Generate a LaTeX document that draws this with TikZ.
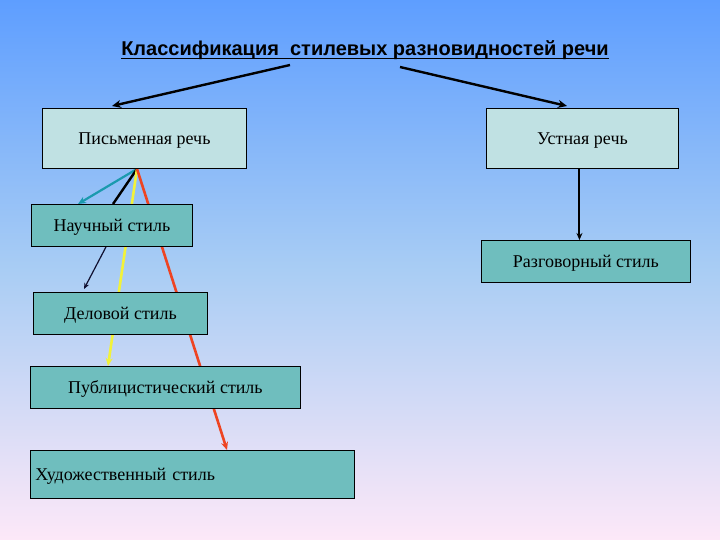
\documentclass[tikz,border=0pt]{standalone}
\usepackage{fontspec}
\setmainfont{Liberation Serif}
\newfontfamily\titlefont{Liberation Sans}
\usetikzlibrary{arrows.meta,calc}
\pgfdeclarelayer{bg}
\pgfdeclarelayer{back}
\pgfsetlayers{back,bg,main}
\definecolor{skytop}{HTML}{5E9EFF}
\definecolor{skymid}{HTML}{A9CDF4}
\definecolor{skybot}{HTML}{FDE8F8}
\definecolor{palebox}{HTML}{C0E1E3}
\definecolor{tealbox}{HTML}{6FBEBE}
\definecolor{tealline}{HTML}{1A9AAE}
\definecolor{yelline}{HTML}{F2F23A}
\definecolor{redline}{HTML}{EE4422}
\definecolor{navyline}{HTML}{101030}
\tikzset{
  boxbase/.style={draw=black, line width=0.9pt, anchor=north west, inner sep=0pt, text height=12pt, text depth=0pt, font=\fontsize{18}{20}\selectfont},
  topbox/.style={boxbase, fill=palebox},
  stylebox/.style={boxbase, fill=tealbox},
  bigarrow/.style={line width=2.4pt, -{Stealth[length=9pt,width=8pt]}},
}
\begin{document}
\begin{tikzpicture}[x=1pt,y=-1pt]
\begin{pgfonlayer}{back}
\shade[top color=skytop, bottom color=skybot, middle color=skymid] (0,0) rectangle (720,540);
\end{pgfonlayer}
\useasboundingbox (0,0) rectangle (720,540);

\node[font=\titlefont\bfseries\fontsize{20}{22}\selectfont, inner sep=0pt] (title) at (365,50) {Классификация\ \ стилевых разновидностей речи};
\draw[line width=1.4pt] ($(title.base west)+(0,3)$) -- ($(title.base east)+(0,3)$);

\node[topbox, minimum width=204pt, minimum height=60pt] (pis) at (42,108) {Письменная речь};
\node[topbox, minimum width=192pt, minimum height=60pt] (ust) at (486,108) {Устная речь};
\node[stylebox, minimum width=161pt, minimum height=42pt] (nauch) at (31,204) {Научный стиль};
\node[stylebox, minimum width=209pt, minimum height=42pt] (razg) at (481,240) {Разговорный стиль};
\node[stylebox, minimum width=174pt, minimum height=42pt] (del) at (33,292) {Деловой стиль};
\node[stylebox, minimum width=270pt, minimum height=42pt] (pub) at (30,366) {Публицистический стиль};
\node[stylebox, minimum width=324pt, minimum height=48pt, align=left, text width=314pt] (hud) at (30,450) {Художественный стиль};

\coordinate (tl) at (290,65);
\coordinate (tr) at (400,67);
\coordinate (ptip) at ($(pis.south west)+(95,0)$);

\draw[bigarrow] (tl) -- (112,106);
\draw[bigarrow] (tr) -- (567,106);

\coordinate (us) at ($(ust.south)+(-3,0)$);
\draw[line width=2pt, -{Stealth[length=7pt,width=6pt]}] (us) -- (us |- razg.north);

\begin{pgfonlayer}{bg}
\draw[tealline, line width=2.2pt, -{Stealth[length=8pt,width=7pt]}] (ptip) -- ($(nauch.north west)+(47,0)$);
\draw[black, line width=2.4pt] (ptip) -- ($(nauch.north west)+(82,0)$);
\draw[yelline, line width=2.6pt, -{Stealth[length=8pt,width=7pt]}] (ptip) -- ($(pub.north west)+(78,0)$);
\draw[redline, line width=2.6pt, -{Stealth[length=8pt,width=7pt]}] (ptip) -- ($(hud.north west)+(197,0)$);
\draw[navyline, line width=1.2pt, -{Stealth[length=6pt,width=5pt]}] ($(nauch.south west)+(75,0)$) -- ($(del.north west)+(51,-3)$);
\end{pgfonlayer}
\end{tikzpicture}
\end{document}
